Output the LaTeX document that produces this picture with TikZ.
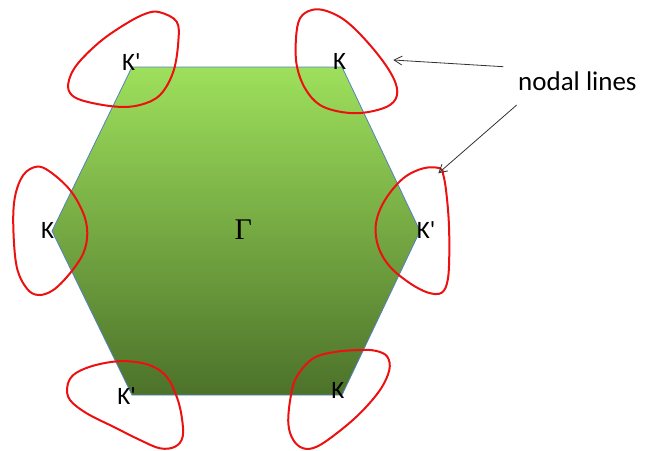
\documentclass[tikz,border=0pt]{standalone}
\usepackage{fontspec}
\setmainfont{Carlito}
\newfontfamily\klfont{Carlito}
\newfontfamily\gammafont{Liberation Serif}
\usetikzlibrary{arrows.meta}
\definecolor{hexTop}{RGB}{158,224,92}
\definecolor{hexMid}{RGB}{124,178,68}
\definecolor{hexBot}{RGB}{76,114,42}
\definecolor{hexEdge}{RGB}{84,130,190}
\definecolor{loopRed}{RGB}{236,16,16}
\definecolor{arrowGray}{RGB}{50,50,50}
\tikzset{
  hexfill/.style={draw=hexEdge, line width=0.8pt, top color=hexTop, middle color=hexMid, bottom color=hexBot},
  loopline/.style={draw=loopRed, line width=2pt},
  klabel/.style={font=\klfont\fontsize{25}{28}\selectfont, text=black, inner sep=0pt},
  pointer/.style={draw=arrowGray, line width=0.8pt, -{Straight Barb[length=8pt,width=9pt]}},
}
\begin{document}
\begin{tikzpicture}[x=1pt,y=-1pt]
\useasboundingbox (0,0) rectangle (645,450);
% hexagon
\coordinate (v1) at (132,67);
\coordinate (v2) at (342,67);
\coordinate (v3) at (420,231);
\coordinate (v4) at (342,395);
\coordinate (v5) at (132,395);
\coordinate (v6) at (52,231);
\path[hexfill] (v1) -- (v2) -- (v3) -- (v4) -- (v5) -- (v6) -- cycle;
% loops
\draw[loopline] plot[smooth cycle, tension=0.6] coordinates {
 (160,12.3) (176.7,21.7) (178.3,41.7) (173.3,71.7) (160,95) (140,105) (116.7,106.7)
 (86.7,101.7) (71.7,95) (68.3,83.3) (76.7,65) (100,41.7) (126.7,23.3) (146.7,13.3)};
\draw[loopline] plot[smooth cycle, tension=0.6] coordinates {
 (311.7,10) (300,18.3) (296,38.3) (296.7,65) (305,88.3) (320,105) (343.3,112.3)
 (366.7,112.3) (390,105) (397.3,91.7) (390,71.7) (370,45) (346.7,21.7) (326.7,11)};
\draw[loopline] plot[smooth cycle, tension=0.6] coordinates {
 (36.7,166.7) (23.3,175) (15,196.7) (13.3,226.7) (16.7,266.7) (26.7,288.3) (38.3,295)
 (53.3,290) (70,273.3) (83.3,253.3) (87.3,233.3) (83.3,213.3) (70,190) (50,171.7)};
\draw[loopline] plot[smooth cycle, tension=0.6] coordinates {
 (440,168.3) (423.3,168.3) (403.3,178.3) (385,200) (376,223.3) (378.3,246.7) (390,266.7)
 (410,283.3) (428.3,292.7) (441.7,292.7) (447.7,280) (449.3,253.3) (448.7,220) (446,190) (443.3,175)};
\draw[loopline] plot[smooth cycle, tension=0.6] coordinates {
 (113.3,361.7) (90,366.7) (73.3,375) (67.3,386.7) (70,400) (86.7,413.3) (113.3,426.7)
 (140,440) (160,448.3) (175,446.7) (182.7,436.7) (181.7,416.7) (176.7,396.7) (166.7,376.7)
 (151.7,366) (133.3,361.7)};
\draw[loopline] plot[smooth cycle, tension=0.6] coordinates {
 (363.3,350) (336.7,351.7) (313.3,358.3) (296.7,376.7) (290.7,396.7) (288.3,423.3) (293.3,440)
 (303.3,448.3) (316.7,446.7) (336.7,433.3) (360,413.3) (380,390) (389.3,370) (387.3,356.7) (376.7,351)};
% labels
\node[klabel] (k1) at (131.5,61.7) {K'};
\node[klabel] (k2) at (339.7,61.7) {K};
\node[klabel] (k3) at (47.5,230.8) {K};
\node[klabel] (k4) at (426,230.5) {K'};
\node[klabel] (k5) at (126.7,395.8) {K'};
\node[klabel] (k6) at (337.8,390.5) {K};
\node[inner sep=0pt, font=\gammafont\fontsize{30}{33}\selectfont] (gamma) at (243.3,229.7) {Γ};
% nodal lines
\node[anchor=base west, inner sep=0pt, font=\fontsize{27}{30}\selectfont] (nl) at (518,90) {nodal lines};
\coordinate (s1) at (503.3,66.7);
\coordinate (e1) at (393.3,60);
\coordinate (s2) at (516.7,105);
\coordinate (e2) at (438.3,173.3);
\draw[pointer] (s1) -- (e1);
\draw[pointer] (s2) -- (e2);
\end{tikzpicture}
\end{document}
